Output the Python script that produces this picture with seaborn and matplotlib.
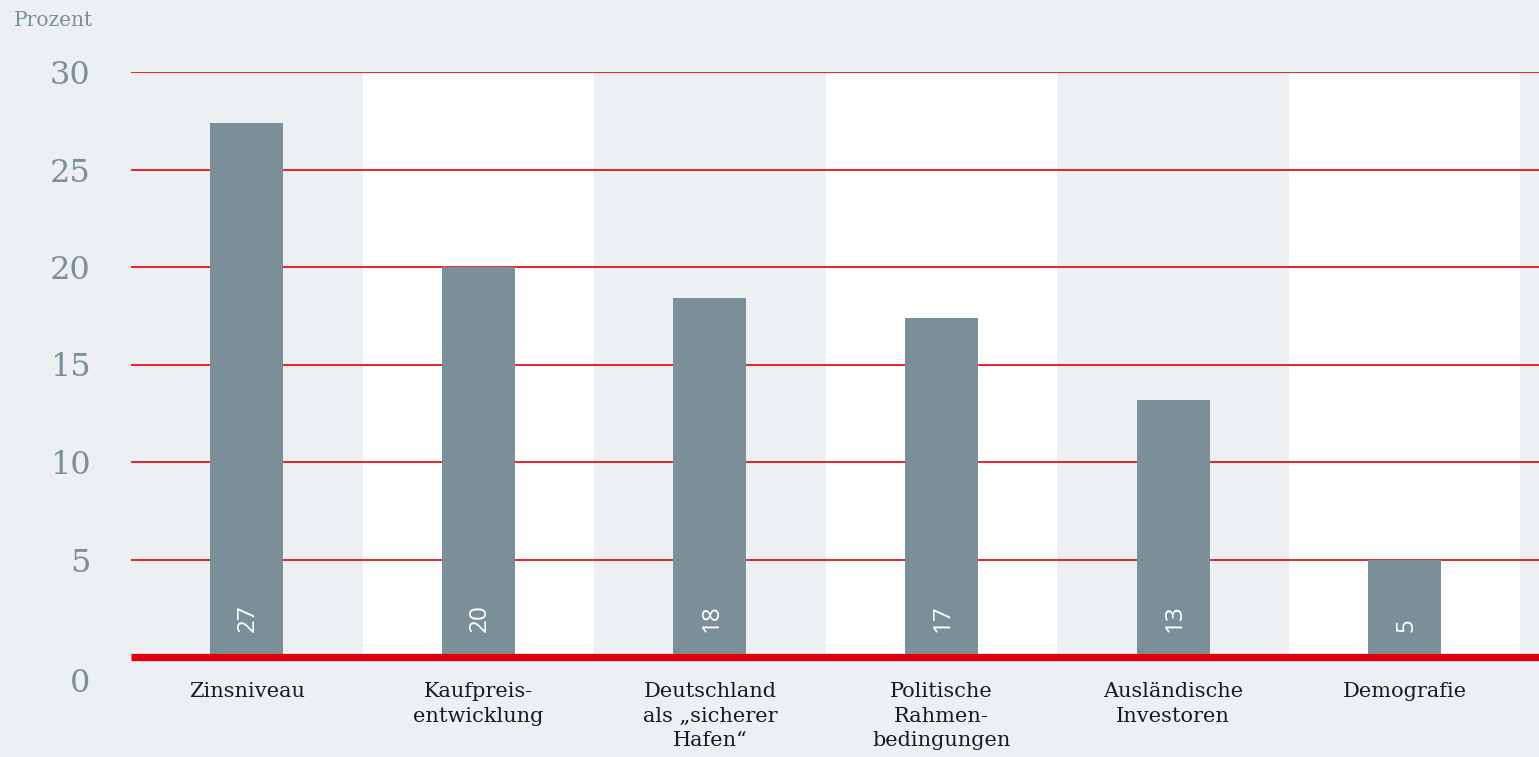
import matplotlib
matplotlib.use("Agg")
import matplotlib.pyplot as plt
import matplotlib.transforms as mtransforms
import seaborn as sns
import pandas as pd

# data
categories = [
    "Zinsniveau",
    "Kaufpreis-\nentwicklung",
    "Deutschland\nals \u201esicherer\nHafen\u201c",
    "Politische\nRahmen-\nbedingungen",
    "Ausl\u00e4ndische\nInvestoren",
    "Demografie",
]
values = [27.4, 20.0, 18.4, 17.4, 13.2, 5.0]
value_labels = ["27", "20", "18", "17", "13", "5"]
y_ticks = [0, 5, 10, 15, 20, 25, 30]

BG = "#edf0f3"
BAR = "#7b8f98"
RED = "#e2000f"
GRID = "#e8101c"
GRAY_TXT = "#7b8f98"

sns.set_theme(style="white")
plt.rcParams["font.family"] = ["DejaVu Serif", "DejaVu Sans"]

df = pd.DataFrame({"Kategorie": categories, "Wert": values})

fig = plt.figure(figsize=(15.39, 7.57), dpi=100, facecolor=BG)
ax = fig.add_axes([131 / 1539, 100 / 757, 1 - 131 / 1539, 585 / 757])
ax.set_facecolor(BG)

# alternating white bands behind every second category
for i in range(len(categories)):
    if i % 2 == 1:
        ax.axvspan(i - 0.5, i + 0.5, color="white", zorder=0, lw=0)

sns.barplot(data=df, x="Kategorie", y="Wert", color=BAR, width=0.315,
            saturation=1, linewidth=0, ax=ax, zorder=3)

ax.set_xlim(-0.5, 5.58)
ax.set_ylim(0, 30)
ax.set_yticks(y_ticks)
ax.set_yticklabels([str(t) for t in y_ticks])

for t in y_ticks[1:]:
    ax.axhline(t, color=GRID, lw=1.3, zorder=2)
ax.axhline(0, color=RED, lw=5.2, zorder=5, clip_on=False, solid_capstyle="butt")

for i, (v, lab) in enumerate(zip(values, value_labels)):
    ax.annotate(lab, xy=(i, 0), xytext=(1, 18), textcoords="offset points",
                rotation=90, ha="center", va="bottom", color="white",
                fontsize=17.5, family=["Open Sans", "DejaVu Sans"], zorder=6)

for s in ax.spines.values():
    s.set_visible(False)

ax.set_xlabel("")
ax.set_ylabel("")
ax.tick_params(axis="y", length=0, pad=29, labelsize=23, labelcolor=GRAY_TXT)
ax.tick_params(axis="x", length=0, pad=18, labelsize=15, labelcolor="#1a1a1a")
for t in ax.get_xticklabels():
    t.set_linespacing(1.38)

# the zero label sits a bit below the baseline
zero = ax.get_yticklabels()[0]
zero.set_transform(zero.get_transform() +
                   mtransforms.ScaledTranslation(0, -23 / 100, fig.dpi_scale_trans))

fig.text(14 / 1539, 1 - 21 / 757, "Prozent", ha="left", va="center",
         fontsize=14.5, color=GRAY_TXT)

fig.savefig("out.png", dpi=100, facecolor=BG)
